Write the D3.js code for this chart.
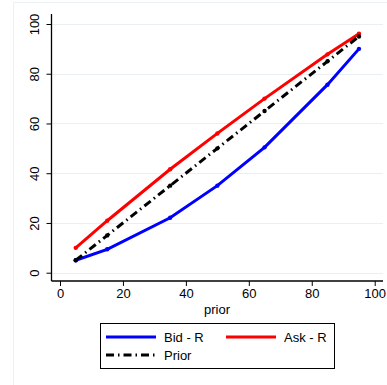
<!DOCTYPE html>
<html>
<head>
<meta charset="utf-8">
<script src="https://cdn.jsdelivr.net/npm/d3@7"></script>
<style>
  body { margin: 0; background: #fff; }
  text { font-family: "Liberation Sans", Arial, sans-serif; fill: #000; }
</style>
</head>
<body>
<div class="canvas"></div>
<script>
// data
const prior = [5, 15, 35, 50, 65, 85, 95];
const bid = [5, 9.4, 22.1, 35, 50.4, 75.6, 90];
const ask = [10, 20.9, 41.6, 56, 70, 87.8, 96.1];
const priorLine = [5, 15, 35, 50, 65, 85, 95];
const xTicks = [0, 20, 40, 60, 80, 100];
const yTicks = [0, 20, 40, 60, 80, 100];
const legendLabels = ['Bid - R', 'Ask - R', 'Prior'];

const width = 387, height = 385;

// plot region edges (axis lines)
const plot = { left: 51.5, right: 383, top: 14, bottom: 281 };

const svg = d3.select('.canvas')
  .append('svg')
  .attr('width', width)
  .attr('height', height);

// light outer frame
svg.append('rect')
  .attr('x', 13.5).attr('y', 2.5)
  .attr('width', 400).attr('height', 400)
  .attr('fill', 'none')
  .attr('stroke', '#eaf2f3');

const x = d3.scaleLinear().domain([0, 100]).range([60, 374.7]);
const y = d3.scaleLinear().domain([0, 100]).range([272.7, 24]);

// gridlines
svg.append('g')
  .selectAll('line')
  .data(yTicks)
  .enter()
  .append('line')
  .attr('x1', plot.left).attr('x2', plot.right)
  .attr('y1', d => Math.round(y(d)) + 0.5)
  .attr('y2', d => Math.round(y(d)) + 0.5)
  .attr('stroke', '#e8f0f1')
  .attr('stroke-width', 1.2);

// y axis
const yAxis = svg.append('g')
  .attr('transform', `translate(${plot.left},0)`)
  .call(d3.axisLeft(y).tickValues(yTicks).tickSize(5).tickPadding(3).tickFormat(d3.format('d')));
yAxis.select('.domain').attr('d', `M0,${plot.top}V${plot.bottom}`).attr('stroke', '#000').attr('stroke-width', 1.3);
yAxis.selectAll('.tick line').attr('stroke', '#000');
yAxis.selectAll('.tick text')
  .attr('font-size', 13)
  .attr('text-anchor', 'middle')
  .attr('dy', null)
  .attr('x', null)
  .attr('transform', 'translate(-17,0) rotate(-90)')
  .attr('dominant-baseline', 'central');

// x axis
const xAxis = svg.append('g')
  .attr('transform', `translate(0,${plot.bottom})`)
  .call(d3.axisBottom(x).tickValues(xTicks).tickSize(5).tickPadding(3).tickFormat(d3.format('d')));
xAxis.select('.domain').attr('d', `M${plot.left},0H${plot.right}`).attr('stroke', '#000').attr('stroke-width', 1.3);
xAxis.selectAll('.tick line').attr('stroke', '#000');
xAxis.selectAll('.tick text').attr('font-size', 13);

// axis title
svg.append('text')
  .attr('x', 217).attr('y', 314)
  .attr('text-anchor', 'middle')
  .attr('font-size', 13)
  .text('prior');

// series
const line = d3.line()
  .x(d => x(d[0]))
  .y(d => y(d[1]));

const series = [
  { name: legendLabels[0], vals: bid, color: '#0000ff', dash: null },
  { name: legendLabels[1], vals: ask, color: '#ff0000', dash: null },
  { name: legendLabels[2], vals: priorLine, color: '#000', dash: '8,4,1.5,4' }
];

series.forEach(s => {
  const pts = prior.map((p, i) => [p, s.vals[i]]);
  svg.append('path')
    .attr('d', line(pts))
    .attr('fill', 'none')
    .attr('stroke', s.color)
    .attr('stroke-width', 3)
    .attr('stroke-dasharray', s.dash);
  svg.append('g')
    .selectAll('circle')
    .data(pts)
    .enter()
    .append('circle')
    .attr('cx', d => x(d[0]))
    .attr('cy', d => y(d[1]))
    .attr('r', 2.2)
    .attr('fill', s.color);
});

// legend
const legend = svg.append('g');
legend.append('rect')
  .attr('x', 100.5).attr('y', 323.5)
  .attr('width', 234).attr('height', 45)
  .attr('fill', '#fff')
  .attr('stroke', '#000')
  .attr('stroke-width', 1);

const legendPos = [
  { x: 106, y: 337 },
  { x: 226, y: 337 },
  { x: 106, y: 355 }
];

series.forEach((s, i) => {
  const p = legendPos[i];
  legend.append('line')
    .attr('x1', p.x).attr('x2', p.x + 50)
    .attr('y1', p.y).attr('y2', p.y)
    .attr('stroke', s.color)
    .attr('stroke-width', 3)
    .attr('stroke-dasharray', s.dash);
  legend.append('text')
    .attr('x', p.x + 58).attr('y', p.y)
    .attr('dominant-baseline', 'central')
    .attr('font-size', 13)
    .text(s.name);
});
</script>
</body>
</html>
